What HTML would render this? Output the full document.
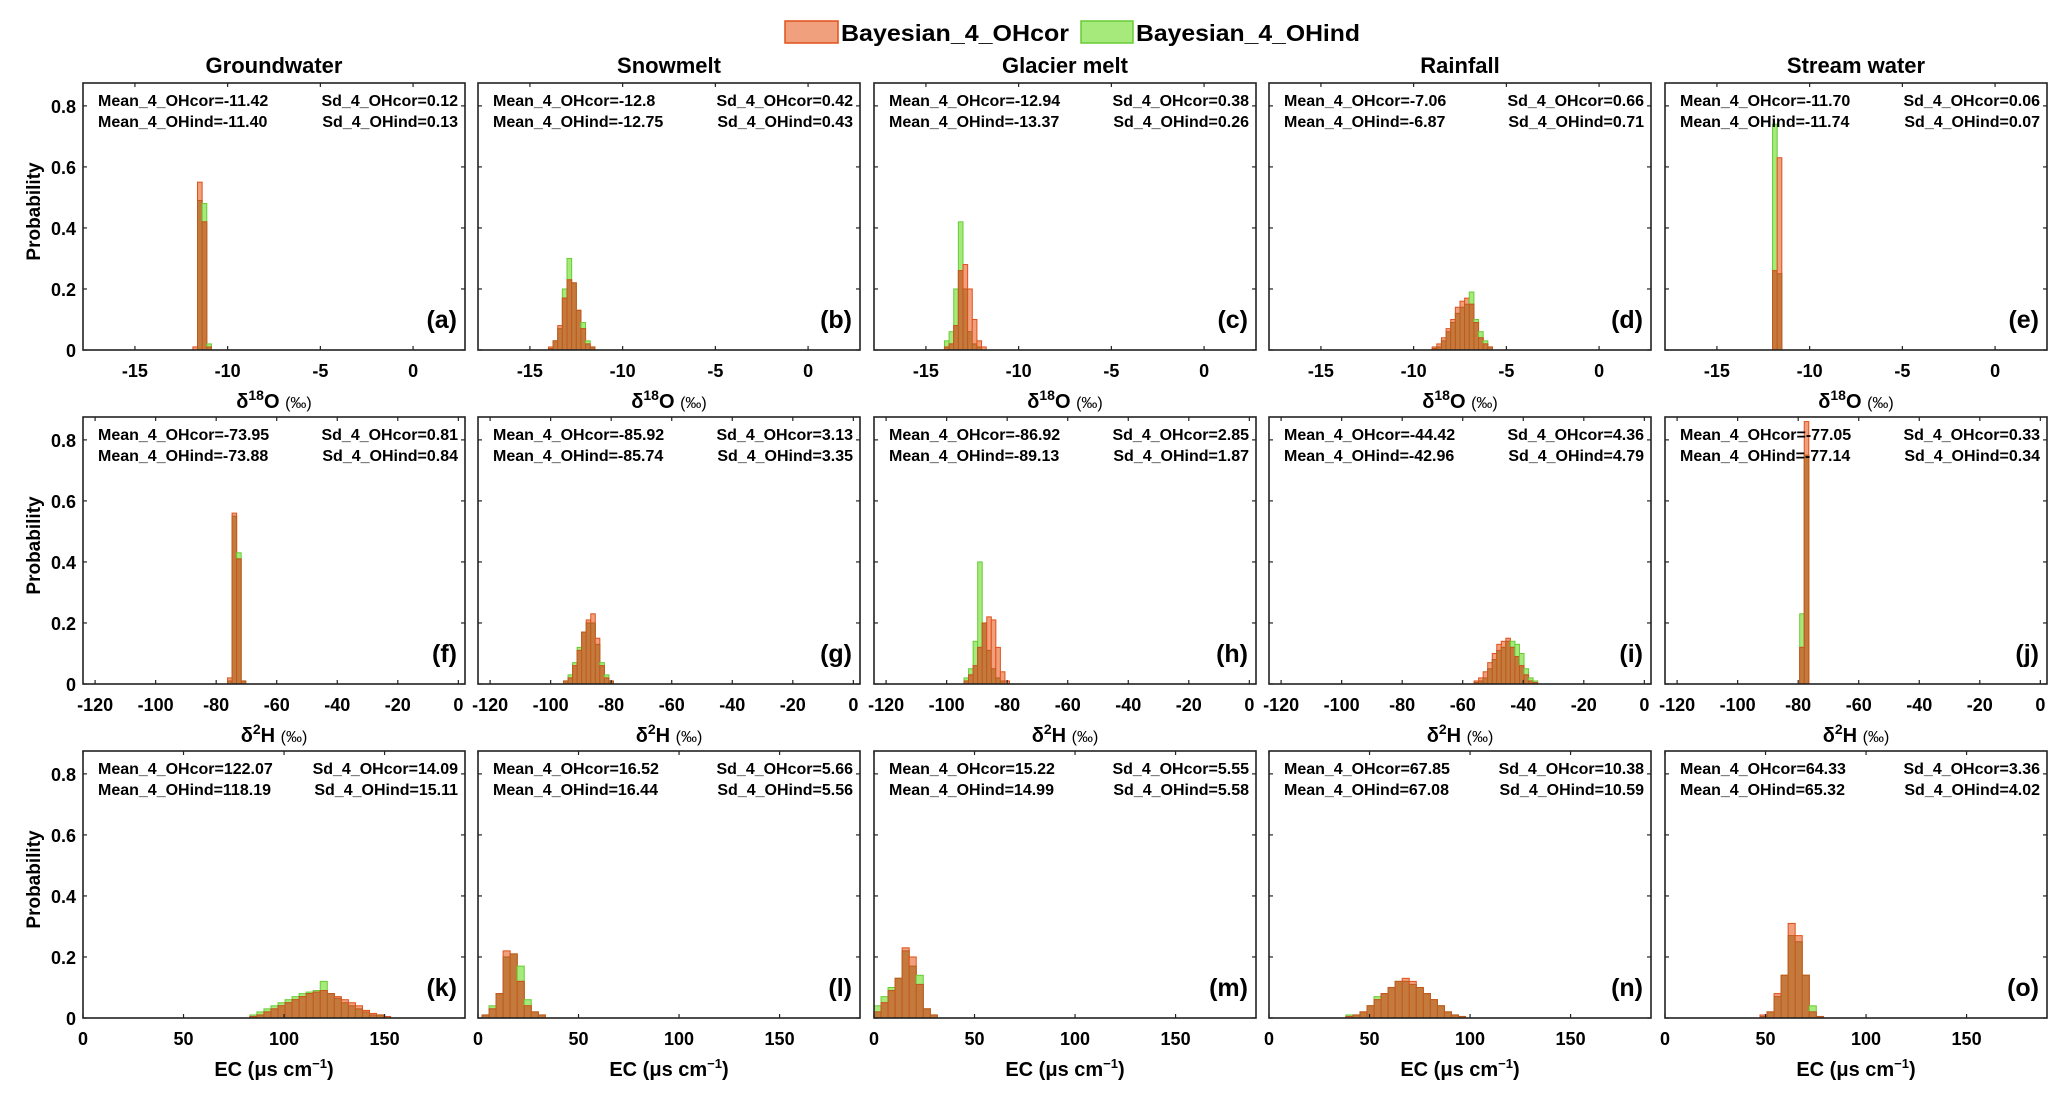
<!DOCTYPE html>
<html><head><meta charset="utf-8">
<style>
html,body{margin:0;padding:0;background:#fff;}
svg{display:block;font-family:"Liberation Sans",Arial,sans-serif;font-weight:bold;}
</style></head>
<body>
<svg id="fig" width="2067" height="1095" viewBox="0 0 2067 1095" xmlns="http://www.w3.org/2000/svg">
<defs id="clips"></defs>
<g>
<rect x="785" y="21" width="53" height="22" fill="#f0a07c" stroke="#e0501a" stroke-width="1.5"/>
<text x="841" y="41" font-size="23" textLength="228" lengthAdjust="spacingAndGlyphs">Bayesian_4_OHcor</text>
<rect x="1081" y="21" width="52" height="22" fill="#a6ea7c" stroke="#66cc33" stroke-width="1.5"/>
<text x="1136" y="41" font-size="23" textLength="224" lengthAdjust="spacingAndGlyphs">Bayesian_4_OHind</text>
</g>
<g id="panels"></g>
</svg>
<script>
// Column titles and panel letters
const titles = ["Groundwater","Snowmelt","Glacier melt","Rainfall","Stream water"];
const letters = ["a","b","c","d","e","f","g","h","i","j","k","l","m","n","o"];
// Axis configuration per row
const xLims = [[-17.8,2.8],[-124,2.2],[0,190]];
const xTicks = [[-15,-10,-5,0],[-120,-100,-80,-60,-40,-20,0],[0,50,100,150]];
const xTickLabels = [["-15","-10","-5","0"],["-120","-100","-80","-60","-40","-20","0"],["0","50","100","150"]];
const yTicks = [0,0.2,0.4,0.6,0.8];
const yTickLabels = ["0","0.2","0.4","0.6","0.8"];
const binWidths = [0.25,1.5,3.5];
// Stats text
const meanCor = ["-11.42","-12.8","-12.94","-7.06","-11.70","-73.95","-85.92","-86.92","-44.42","-77.05","122.07","16.52","15.22","67.85","64.33"];
const meanInd = ["-11.40","-12.75","-13.37","-6.87","-11.74","-73.88","-85.74","-89.13","-42.96","-77.14","118.19","16.44","14.99","67.08","65.32"];
const sdCor = ["0.12","0.42","0.38","0.66","0.06","0.81","3.13","2.85","4.36","0.33","14.09","5.66","5.55","10.38","3.36"];
const sdInd = ["0.13","0.43","0.26","0.71","0.07","0.84","3.35","1.87","4.79","0.34","15.11","5.56","5.58","10.59","4.02"];
// Histogram bin starts (left edge of first bin) per panel
const binStart = [-11.875,-14.0,-14.0,-9.0,-12.0, -76.25,-95.75,-94.25,-56.25,-79.5, 83,2,0,38.25,47.25];
// Probabilities per bin: OHcor series
const probCor = [
 [0.01,0.55,0.42,0.01],
 [0.01,0.03,0.08,0.17,0.23,0.22,0.13,0.07,0.02,0.01],
 [0.01,0.02,0.08,0.26,0.28,0.2,0.1,0.03,0.01],
 [0.01,0.02,0.04,0.07,0.1,0.14,0.16,0.17,0.15,0.09,0.04,0.02,0.01],
 [0.26,0.63],
 [0.02,0.56,0.41,0.01],
 [0.01,0.02,0.06,0.11,0.17,0.21,0.23,0.15,0.06,0.02,0.01],
 [0.01,0.03,0.06,0.12,0.2,0.22,0.21,0.12,0.04,0.01],
 [0.01,0.02,0.04,0.07,0.1,0.13,0.14,0.15,0.12,0.09,0.06,0.03,0.01,0.005],
 [0.12,0.86],
 [0.005,0.01,0.02,0.03,0.04,0.05,0.06,0.07,0.08,0.085,0.09,0.08,0.07,0.06,0.05,0.04,0.025,0.015,0.01,0.005],
 [0.01,0.03,0.08,0.22,0.21,0.12,0.04,0.02,0.01],
 [0.02,0.05,0.09,0.13,0.23,0.2,0.11,0.03,0.01],
 [0.005,0.01,0.02,0.04,0.06,0.08,0.1,0.12,0.13,0.12,0.1,0.08,0.06,0.04,0.02,0.01,0.005],
 [0.01,0.02,0.08,0.14,0.31,0.27,0.14,0.02,0.005]
];
// Probabilities per bin: OHind series
const probInd = [
 [0,0.49,0.48,0.02],
 [0.005,0.03,0.07,0.2,0.3,0.22,0.13,0.09,0.03,0.01],
 [0.03,0.06,0.2,0.42,0.2,0.06,0.02,0.01,0],
 [0.005,0.01,0.03,0.06,0.09,0.12,0.14,0.15,0.19,0.1,0.06,0.03,0.01],
 [0.74,0.25],
 [0.01,0.55,0.43,0.01],
 [0.01,0.03,0.07,0.12,0.17,0.2,0.2,0.13,0.07,0.03,0.01],
 [0.02,0.05,0.14,0.4,0.2,0.11,0.05,0.02,0.01,0],
 [0.005,0.01,0.02,0.05,0.08,0.11,0.12,0.14,0.14,0.13,0.1,0.05,0.02,0.01],
 [0.23,0.75],
 [0.01,0.02,0.03,0.04,0.05,0.06,0.07,0.08,0.085,0.09,0.12,0.08,0.065,0.05,0.04,0.03,0.02,0.01,0.01,0],
 [0.01,0.04,0.08,0.2,0.21,0.17,0.06,0.02,0.01],
 [0.04,0.07,0.1,0.13,0.22,0.17,0.14,0.03,0.01],
 [0.01,0.01,0.02,0.04,0.07,0.08,0.1,0.12,0.12,0.11,0.1,0.08,0.06,0.04,0.02,0.01,0.005],
 [0.005,0.02,0.07,0.14,0.27,0.25,0.14,0.04,0.005]
];

const NS="http://www.w3.org/2000/svg";
const root=document.getElementById('panels');
const colX=[83,478,874,1269,1665], rowY=[83,417,751], PW=382, PH=267, YMAX=0.875;
function mk(tag,attrs,parent){const e=document.createElementNS(NS,tag);for(const k in attrs)e.setAttribute(k,attrs[k]);(parent||root).appendChild(e);return e;}

for(let c=0;c<5;c++){
  const t=mk('text',{x:colX[c]+PW/2,y:73,'font-size':22,'text-anchor':'middle'});
  
  
  t.textContent=titles[c];
}

for(let r=0;r<3;r++){
  const yt=mk('text',{x:0,y:0,'font-size':19,'text-anchor':'middle',transform:`translate(40,${rowY[r]+PH/2-5}) rotate(-90)`});
  
  
  yt.textContent='Probability';
  for(let c=0;c<5;c++){
    const i=r*5+c, x0=colX[c], y0=rowY[r];
    const g=mk('g',{});
    
    
    const cp=mk('clipPath',{id:'cp'+i},document.getElementById('clips'));
    mk('rect',{x:x0,y:y0,width:PW,height:PH},cp);
    const bars=mk('g',{'clip-path':'url(#cp'+i+')'},g);
    const [a,b]=xLims[r];
    const sx=v=>x0+(v-a)/(b-a)*PW;
    const sy=v=>y0+PH-v/YMAX*PH;
    const w=binWidths[r];
    const n=Math.max(probCor[i].length,probInd[i].length);
    for(let k=0;k<n;k++){
      const lx=sx(binStart[i]+k*w), rx=sx(binStart[i]+(k+1)*w);
      const gv=probInd[i][k]||0, ov=probCor[i][k]||0;
      if(gv>0){const e=mk('rect',{x:lx,y:sy(gv),width:rx-lx,height:sy(0)-sy(gv),fill:'#a6ea7c',stroke:'#66cc33','stroke-width':1},bars);
        
        }
      if(ov>0){const e=mk('rect',{x:lx,y:sy(ov),width:rx-lx,height:sy(0)-sy(ov),fill:'#f0a07c',stroke:'#e0501a','stroke-width':1},bars);
        
        }
      const m=Math.min(gv,ov);
      if(m>0){const e=mk('rect',{x:lx,y:sy(m),width:rx-lx,height:sy(0)-sy(m),fill:'#c47a3c',stroke:'#c0581e','stroke-width':1},bars);
        
        }
    }
    const box=mk('rect',{x:x0,y:y0,width:PW,height:PH,fill:'none',stroke:'#222','stroke-width':1.6},g);
    
    
    xTicks[r].forEach((v,k)=>{
      const X=sx(v);
      mk('line',{x1:X,x2:X,y1:y0+PH,y2:y0+PH-4,stroke:'#222','stroke-width':1.2},g);
      mk('line',{x1:X,x2:X,y1:y0,y2:y0+4,stroke:'#222','stroke-width':1.2},g);
      const tl=mk('text',{x:X,y:y0+PH+27,'font-size':18,'text-anchor':'middle'},g);
      
      
      tl.textContent=xTickLabels[r][k];
    });
    yTicks.forEach((v,k)=>{
      const Y=sy(v);
      mk('line',{x1:x0,x2:x0+4,y1:Y,y2:Y,stroke:'#222','stroke-width':1.2},g);
      mk('line',{x1:x0+PW,x2:x0+PW-4,y1:Y,y2:Y,stroke:'#222','stroke-width':1.2},g);
      if(c===0){
        const tl=mk('text',{x:x0-7,y:Y+7,'font-size':18,'text-anchor':'end'},g);
        
        
        tl.textContent=yTickLabels[k];
      }
    });
    const s1=mk('text',{x:x0+15,y:y0+23,'font-size':16},g);
    
    
    s1.textContent='Mean_4_OHcor='+meanCor[i];
    const s2=mk('text',{x:x0+15,y:y0+44,'font-size':16},g);
    
    
    s2.textContent='Mean_4_OHind='+meanInd[i];
    const s3=mk('text',{x:x0+PW-7,y:y0+23,'font-size':16,'text-anchor':'end'},g);
    
    
    s3.textContent='Sd_4_OHcor='+sdCor[i];
    const s4=mk('text',{x:x0+PW-7,y:y0+44,'font-size':16,'text-anchor':'end'},g);
    
    
    s4.textContent='Sd_4_OHind='+sdInd[i];
    const lt=mk('text',{x:x0+PW-8,y:y0+PH-22,'font-size':25,'text-anchor':'end'},g);
    
    
    lt.textContent='('+letters[i]+')';
    const xl=mk('text',{x:x0+PW/2,y:y0+PH+58,'font-size':20,'text-anchor':'middle'},g);
    
    
    if(r===0){xl.innerHTML='δ<tspan dy="-8" font-size="14">18</tspan><tspan dy="8">O </tspan><tspan font-size="16" font-weight="normal">(‰)</tspan>';}
    else if(r===1){xl.innerHTML='δ<tspan dy="-8" font-size="14">2</tspan><tspan dy="8">H </tspan><tspan font-size="16" font-weight="normal">(‰)</tspan>';}
    else {xl.innerHTML='EC (μs cm<tspan dy="-8" font-size="13">−1</tspan><tspan dy="8">)</tspan>';}
  }
}
</script>
</body></html>
